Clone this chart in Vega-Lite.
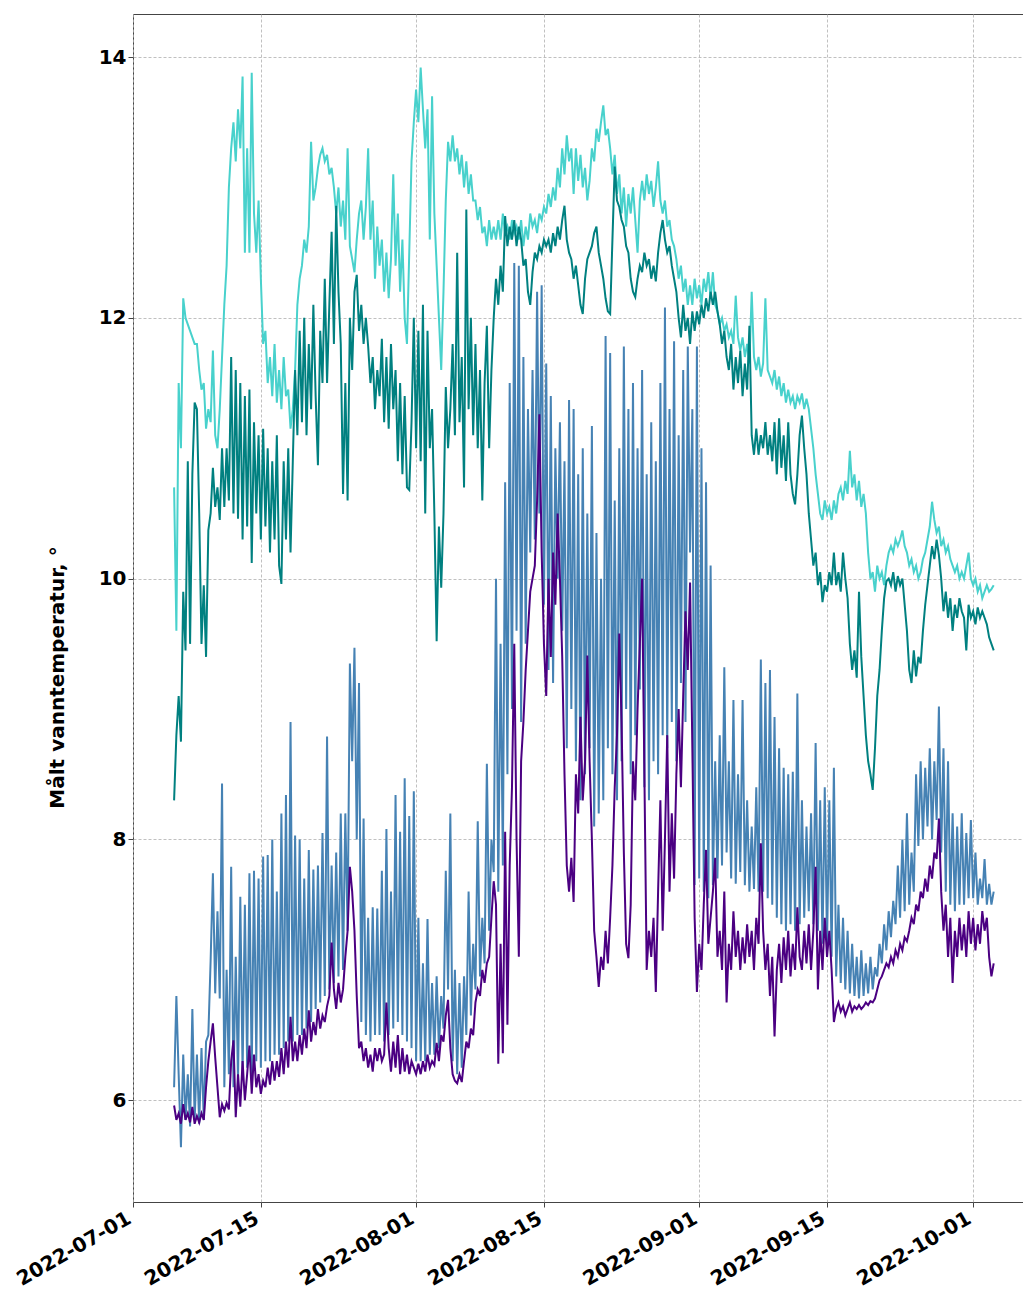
{
  "$schema": "https://vega.github.io/schema/vega-lite/v6.json",
  "width": 890,
  "height": 1188,
  "autosize": {"type": "none"},
  "padding": {"left": 133, "top": 14, "right": 0, "bottom": 87},
  "background": "white",
  "data": {
    "values": [
      {"t":"2022-07-05T12:00","a":10.7,"b":8.3,"c":6.1,"d":5.96},
      {"t":"2022-07-05T18:00","a":9.6,"b":8.8,"c":6.8,"d":5.85},
      {"t":"2022-07-06T00:00","a":11.5,"b":9.1,"c":6.2,"d":5.9},
      {"t":"2022-07-06T06:00","a":11.0,"b":8.75,"c":5.64,"d":5.82},
      {"t":"2022-07-06T12:00","a":12.15,"b":9.9,"c":6.35,"d":5.97},
      {"t":"2022-07-06T18:00","a":12.0,"b":9.45,"c":5.85,"d":5.85},
      {"t":"2022-07-07T00:00","a":11.95,"b":10.9,"c":6.2,"d":5.9},
      {"t":"2022-07-07T06:00","a":11.9,"b":9.5,"c":5.8,"d":5.83},
      {"t":"2022-07-07T12:00","a":11.85,"b":10.8,"c":6.7,"d":5.95},
      {"t":"2022-07-07T18:00","a":11.8,"b":11.35,"c":5.85,"d":5.82},
      {"t":"2022-07-08T00:00","a":11.8,"b":11.3,"c":6.35,"d":5.88},
      {"t":"2022-07-08T06:00","a":11.6,"b":10.5,"c":5.82,"d":5.83},
      {"t":"2022-07-08T12:00","a":11.45,"b":9.5,"c":6.4,"d":5.9},
      {"t":"2022-07-08T18:00","a":11.5,"b":9.95,"c":5.85,"d":5.85},
      {"t":"2022-07-09T00:00","a":11.15,"b":9.4,"c":6.45,"d":6.1},
      {"t":"2022-07-09T06:00","a":11.3,"b":10.37,"c":6.5,"d":6.3},
      {"t":"2022-07-09T12:00","a":11.2,"b":10.5,"c":7.07,"d":6.45},
      {"t":"2022-07-09T18:00","a":11.75,"b":10.85,"c":7.74,"d":6.59},
      {"t":"2022-07-10T00:00","a":11.1,"b":10.55,"c":6.82,"d":6.33},
      {"t":"2022-07-10T06:00","a":11.0,"b":10.7,"c":7.45,"d":6.1},
      {"t":"2022-07-10T12:00","a":11.3,"b":10.45,"c":6.78,"d":5.87},
      {"t":"2022-07-10T18:00","a":11.7,"b":11.0,"c":8.43,"d":5.97},
      {"t":"2022-07-11T00:00","a":12.1,"b":10.55,"c":6.1,"d":5.92},
      {"t":"2022-07-11T06:00","a":12.4,"b":11.0,"c":7.0,"d":5.98},
      {"t":"2022-07-11T12:00","a":13.0,"b":10.6,"c":6.2,"d":5.93},
      {"t":"2022-07-11T18:00","a":13.3,"b":11.7,"c":7.79,"d":6.3},
      {"t":"2022-07-12T00:00","a":13.5,"b":10.5,"c":6.1,"d":6.46},
      {"t":"2022-07-12T06:00","a":13.2,"b":11.6,"c":7.1,"d":5.87},
      {"t":"2022-07-12T12:00","a":13.6,"b":10.46,"c":6.15,"d":6.2},
      {"t":"2022-07-12T18:00","a":13.3,"b":11.5,"c":7.56,"d":5.95},
      {"t":"2022-07-13T00:00","a":13.85,"b":10.3,"c":6.2,"d":6.3},
      {"t":"2022-07-13T06:00","a":12.5,"b":11.4,"c":7.5,"d":6.0},
      {"t":"2022-07-13T12:00","a":13.3,"b":10.4,"c":6.25,"d":6.2},
      {"t":"2022-07-13T18:00","a":12.5,"b":11.45,"c":7.74,"d":6.42},
      {"t":"2022-07-14T00:00","a":13.88,"b":10.12,"c":6.2,"d":6.05},
      {"t":"2022-07-14T06:00","a":12.8,"b":11.2,"c":7.76,"d":6.35},
      {"t":"2022-07-14T12:00","a":12.5,"b":10.5,"c":6.3,"d":6.1},
      {"t":"2022-07-14T18:00","a":12.9,"b":11.1,"c":7.7,"d":6.2},
      {"t":"2022-07-15T00:00","a":12.3,"b":10.3,"c":6.25,"d":6.05},
      {"t":"2022-07-15T06:00","a":11.8,"b":11.15,"c":7.87,"d":6.15},
      {"t":"2022-07-15T12:00","a":11.9,"b":10.4,"c":6.3,"d":6.1},
      {"t":"2022-07-15T18:00","a":11.5,"b":11.0,"c":7.88,"d":6.25},
      {"t":"2022-07-16T00:00","a":11.7,"b":10.2,"c":6.3,"d":6.12},
      {"t":"2022-07-16T06:00","a":11.4,"b":10.9,"c":8.0,"d":6.3},
      {"t":"2022-07-16T12:00","a":11.8,"b":10.3,"c":6.35,"d":6.15},
      {"t":"2022-07-16T18:00","a":11.35,"b":11.1,"c":7.6,"d":6.3},
      {"t":"2022-07-17T00:00","a":11.6,"b":10.1,"c":6.35,"d":6.18},
      {"t":"2022-07-17T06:00","a":11.3,"b":9.96,"c":8.2,"d":6.4},
      {"t":"2022-07-17T12:00","a":11.7,"b":10.9,"c":6.4,"d":6.2},
      {"t":"2022-07-17T18:00","a":11.4,"b":10.3,"c":8.34,"d":6.45},
      {"t":"2022-07-18T00:00","a":11.45,"b":11.0,"c":6.45,"d":6.25},
      {"t":"2022-07-18T06:00","a":11.15,"b":10.2,"c":8.9,"d":6.64},
      {"t":"2022-07-18T12:00","a":11.3,"b":10.9,"c":6.45,"d":6.3},
      {"t":"2022-07-18T18:00","a":11.6,"b":11.6,"c":8.03,"d":6.45},
      {"t":"2022-07-19T00:00","a":12.1,"b":11.1,"c":6.5,"d":6.3},
      {"t":"2022-07-19T06:00","a":12.3,"b":11.9,"c":8.0,"d":6.5},
      {"t":"2022-07-19T12:00","a":12.4,"b":11.2,"c":6.5,"d":6.35},
      {"t":"2022-07-19T18:00","a":12.6,"b":12.0,"c":7.7,"d":6.55},
      {"t":"2022-07-20T00:00","a":12.5,"b":11.1,"c":6.55,"d":6.4},
      {"t":"2022-07-20T06:00","a":12.7,"b":11.8,"c":7.92,"d":6.69},
      {"t":"2022-07-20T12:00","a":13.35,"b":11.3,"c":6.6,"d":6.45},
      {"t":"2022-07-20T18:00","a":12.9,"b":12.1,"c":7.77,"d":6.6},
      {"t":"2022-07-21T00:00","a":13.0,"b":11.4,"c":6.7,"d":6.5},
      {"t":"2022-07-21T06:00","a":13.15,"b":10.87,"c":7.8,"d":6.7},
      {"t":"2022-07-21T12:00","a":13.25,"b":11.9,"c":6.75,"d":6.55},
      {"t":"2022-07-21T18:00","a":13.3,"b":11.5,"c":8.05,"d":6.65},
      {"t":"2022-07-22T00:00","a":13.2,"b":12.3,"c":6.8,"d":6.6},
      {"t":"2022-07-22T06:00","a":13.25,"b":11.5,"c":8.79,"d":6.72},
      {"t":"2022-07-22T12:00","a":13.1,"b":12.1,"c":6.85,"d":6.8},
      {"t":"2022-07-22T18:00","a":13.15,"b":12.66,"c":7.8,"d":7.21},
      {"t":"2022-07-23T00:00","a":13.0,"b":11.8,"c":6.9,"d":6.85},
      {"t":"2022-07-23T06:00","a":12.8,"b":12.86,"c":7.9,"d":6.7},
      {"t":"2022-07-23T12:00","a":13.0,"b":12.2,"c":6.95,"d":6.9},
      {"t":"2022-07-23T18:00","a":12.7,"b":11.8,"c":8.2,"d":6.75},
      {"t":"2022-07-24T00:00","a":12.9,"b":10.65,"c":7.0,"d":6.85},
      {"t":"2022-07-24T06:00","a":12.6,"b":11.5,"c":8.2,"d":7.1},
      {"t":"2022-07-24T12:00","a":13.3,"b":10.6,"c":7.3,"d":7.3},
      {"t":"2022-07-24T18:00","a":12.55,"b":12.0,"c":9.35,"d":7.79},
      {"t":"2022-07-25T00:00","a":12.45,"b":11.6,"c":8.6,"d":7.6},
      {"t":"2022-07-25T06:00","a":12.35,"b":12.2,"c":9.47,"d":7.3},
      {"t":"2022-07-25T12:00","a":12.6,"b":12.33,"c":8.0,"d":6.8},
      {"t":"2022-07-25T18:00","a":12.8,"b":11.9,"c":9.2,"d":6.4},
      {"t":"2022-07-26T00:00","a":12.9,"b":12.1,"c":6.6,"d":6.45},
      {"t":"2022-07-26T06:00","a":12.6,"b":11.8,"c":8.16,"d":6.3},
      {"t":"2022-07-26T12:00","a":12.85,"b":12.0,"c":6.5,"d":6.4},
      {"t":"2022-07-26T18:00","a":13.3,"b":11.78,"c":7.4,"d":6.25},
      {"t":"2022-07-27T00:00","a":12.6,"b":11.5,"c":6.45,"d":6.35},
      {"t":"2022-07-27T06:00","a":12.9,"b":11.7,"c":7.48,"d":6.22},
      {"t":"2022-07-27T12:00","a":12.3,"b":11.3,"c":6.5,"d":6.4},
      {"t":"2022-07-27T18:00","a":12.7,"b":11.6,"c":7.47,"d":6.3},
      {"t":"2022-07-28T00:00","a":12.4,"b":11.4,"c":6.5,"d":6.4},
      {"t":"2022-07-28T06:00","a":12.6,"b":11.84,"c":7.76,"d":6.3},
      {"t":"2022-07-28T12:00","a":12.2,"b":11.2,"c":6.45,"d":6.35},
      {"t":"2022-07-28T18:00","a":12.5,"b":11.7,"c":8.08,"d":6.75},
      {"t":"2022-07-29T00:00","a":12.15,"b":11.15,"c":6.5,"d":6.4},
      {"t":"2022-07-29T06:00","a":12.45,"b":11.8,"c":7.6,"d":6.22},
      {"t":"2022-07-29T12:00","a":13.1,"b":11.3,"c":6.55,"d":6.45},
      {"t":"2022-07-29T18:00","a":12.4,"b":11.6,"c":8.34,"d":6.25},
      {"t":"2022-07-30T00:00","a":12.8,"b":10.9,"c":6.6,"d":6.5},
      {"t":"2022-07-30T06:00","a":12.2,"b":11.5,"c":8.06,"d":6.2},
      {"t":"2022-07-30T12:00","a":12.6,"b":10.8,"c":6.5,"d":6.4},
      {"t":"2022-07-30T18:00","a":12.0,"b":11.4,"c":8.47,"d":6.22},
      {"t":"2022-07-31T00:00","a":11.8,"b":10.7,"c":6.45,"d":6.35},
      {"t":"2022-07-31T06:00","a":12.5,"b":10.68,"c":8.18,"d":6.2},
      {"t":"2022-07-31T12:00","a":13.2,"b":11.2,"c":6.4,"d":6.3},
      {"t":"2022-07-31T18:00","a":13.5,"b":12.0,"c":8.37,"d":6.25},
      {"t":"2022-08-01T00:00","a":13.75,"b":11.0,"c":6.3,"d":6.2},
      {"t":"2022-08-01T06:00","a":13.5,"b":11.9,"c":7.4,"d":6.28},
      {"t":"2022-08-01T12:00","a":13.92,"b":10.9,"c":6.3,"d":6.2},
      {"t":"2022-08-01T18:00","a":13.6,"b":12.1,"c":7.05,"d":6.3},
      {"t":"2022-08-02T00:00","a":13.3,"b":10.5,"c":6.3,"d":6.22},
      {"t":"2022-08-02T06:00","a":13.6,"b":11.9,"c":7.39,"d":6.35},
      {"t":"2022-08-02T12:00","a":12.6,"b":11.0,"c":6.35,"d":6.25},
      {"t":"2022-08-02T18:00","a":13.7,"b":11.3,"c":6.9,"d":6.3},
      {"t":"2022-08-03T00:00","a":12.8,"b":10.5,"c":6.35,"d":6.27},
      {"t":"2022-08-03T06:00","a":12.4,"b":9.52,"c":6.95,"d":6.44},
      {"t":"2022-08-03T12:00","a":12.0,"b":10.4,"c":6.4,"d":6.3},
      {"t":"2022-08-03T18:00","a":11.6,"b":9.93,"c":6.8,"d":6.5},
      {"t":"2022-08-04T00:00","a":12.2,"b":10.5,"c":6.55,"d":6.45},
      {"t":"2022-08-04T06:00","a":12.9,"b":11.47,"c":7.76,"d":6.65},
      {"t":"2022-08-04T12:00","a":13.35,"b":11.0,"c":6.85,"d":6.77},
      {"t":"2022-08-04T18:00","a":13.2,"b":11.3,"c":8.2,"d":6.4},
      {"t":"2022-08-05T00:00","a":13.4,"b":11.8,"c":6.3,"d":6.2},
      {"t":"2022-08-05T06:00","a":13.2,"b":11.1,"c":7.0,"d":6.15},
      {"t":"2022-08-05T12:00","a":13.3,"b":12.5,"c":6.2,"d":6.13},
      {"t":"2022-08-05T18:00","a":13.1,"b":11.2,"c":6.9,"d":6.2},
      {"t":"2022-08-06T00:00","a":13.25,"b":11.7,"c":6.25,"d":6.14},
      {"t":"2022-08-06T06:00","a":13.0,"b":10.7,"c":6.95,"d":6.3},
      {"t":"2022-08-06T12:00","a":13.2,"b":12.83,"c":6.5,"d":6.45},
      {"t":"2022-08-06T18:00","a":12.95,"b":11.3,"c":7.6,"d":6.4},
      {"t":"2022-08-07T00:00","a":13.1,"b":12.0,"c":6.65,"d":6.55},
      {"t":"2022-08-07T06:00","a":12.9,"b":11.1,"c":7.2,"d":6.5},
      {"t":"2022-08-07T12:00","a":12.9,"b":11.8,"c":6.85,"d":6.75},
      {"t":"2022-08-07T18:00","a":12.75,"b":11.0,"c":8.14,"d":6.85},
      {"t":"2022-08-08T00:00","a":12.85,"b":11.6,"c":6.95,"d":6.8},
      {"t":"2022-08-08T06:00","a":12.65,"b":10.6,"c":7.4,"d":7.0},
      {"t":"2022-08-08T12:00","a":12.7,"b":11.5,"c":7.05,"d":6.9},
      {"t":"2022-08-08T18:00","a":12.55,"b":11.94,"c":8.58,"d":7.05},
      {"t":"2022-08-09T00:00","a":12.75,"b":11.0,"c":7.3,"d":7.1},
      {"t":"2022-08-09T06:00","a":12.6,"b":11.6,"c":8.0,"d":7.4},
      {"t":"2022-08-09T12:00","a":12.7,"b":12.0,"c":7.75,"d":7.68},
      {"t":"2022-08-09T18:00","a":12.6,"b":12.3,"c":10.0,"d":7.5},
      {"t":"2022-08-10T00:00","a":12.75,"b":12.1,"c":7.6,"d":6.28},
      {"t":"2022-08-10T06:00","a":12.6,"b":12.4,"c":9.5,"d":7.2},
      {"t":"2022-08-10T12:00","a":12.8,"b":12.2,"c":7.8,"d":6.36},
      {"t":"2022-08-10T18:00","a":12.65,"b":12.78,"c":10.74,"d":8.06},
      {"t":"2022-08-11T00:00","a":12.7,"b":12.55,"c":8.5,"d":6.58},
      {"t":"2022-08-11T06:00","a":12.6,"b":12.7,"c":11.5,"d":7.8},
      {"t":"2022-08-11T12:00","a":12.75,"b":12.6,"c":9.0,"d":8.4},
      {"t":"2022-08-11T18:00","a":12.65,"b":12.75,"c":12.42,"d":9.5},
      {"t":"2022-08-12T00:00","a":12.7,"b":12.55,"c":9.6,"d":8.0},
      {"t":"2022-08-12T06:00","a":12.6,"b":12.7,"c":12.4,"d":7.1},
      {"t":"2022-08-12T12:00","a":12.75,"b":12.6,"c":8.9,"d":8.6},
      {"t":"2022-08-12T18:00","a":12.55,"b":12.4,"c":11.7,"d":8.9},
      {"t":"2022-08-13T00:00","a":12.7,"b":12.45,"c":9.5,"d":9.3},
      {"t":"2022-08-13T06:00","a":12.6,"b":12.2,"c":11.3,"d":9.6},
      {"t":"2022-08-13T12:00","a":12.8,"b":12.1,"c":10.2,"d":9.9},
      {"t":"2022-08-13T18:00","a":12.7,"b":12.35,"c":11.6,"d":10.0},
      {"t":"2022-08-14T00:00","a":12.75,"b":12.5,"c":10.3,"d":10.1},
      {"t":"2022-08-14T06:00","a":12.65,"b":12.45,"c":12.2,"d":10.6},
      {"t":"2022-08-14T12:00","a":12.8,"b":12.55,"c":10.5,"d":11.26},
      {"t":"2022-08-14T18:00","a":12.75,"b":12.5,"c":12.25,"d":10.2},
      {"t":"2022-08-15T00:00","a":12.85,"b":12.6,"c":9.8,"d":9.5},
      {"t":"2022-08-15T06:00","a":12.8,"b":12.55,"c":11.65,"d":9.1},
      {"t":"2022-08-15T12:00","a":12.95,"b":12.6,"c":9.3,"d":10.0},
      {"t":"2022-08-15T18:00","a":12.85,"b":12.5,"c":11.4,"d":9.4},
      {"t":"2022-08-16T00:00","a":13.0,"b":12.65,"c":9.2,"d":10.2},
      {"t":"2022-08-16T06:00","a":12.9,"b":12.55,"c":11.0,"d":9.8},
      {"t":"2022-08-16T12:00","a":13.15,"b":12.7,"c":10.0,"d":10.5},
      {"t":"2022-08-16T18:00","a":13.0,"b":12.6,"c":11.2,"d":10.0},
      {"t":"2022-08-17T00:00","a":13.3,"b":12.75,"c":9.6,"d":9.4},
      {"t":"2022-08-17T06:00","a":13.1,"b":12.86,"c":10.9,"d":8.5},
      {"t":"2022-08-17T12:00","a":13.4,"b":12.6,"c":8.7,"d":7.8},
      {"t":"2022-08-17T18:00","a":13.2,"b":12.5,"c":11.37,"d":7.6},
      {"t":"2022-08-18T00:00","a":13.3,"b":12.45,"c":9.0,"d":7.86},
      {"t":"2022-08-18T06:00","a":12.95,"b":12.3,"c":11.3,"d":7.52},
      {"t":"2022-08-18T12:00","a":13.3,"b":12.4,"c":8.6,"d":8.5},
      {"t":"2022-08-18T18:00","a":13.05,"b":12.25,"c":10.8,"d":8.2},
      {"t":"2022-08-19T00:00","a":13.25,"b":12.1,"c":8.3,"d":8.94},
      {"t":"2022-08-19T06:00","a":13.0,"b":12.03,"c":11.0,"d":8.3},
      {"t":"2022-08-19T12:00","a":13.15,"b":12.3,"c":8.5,"d":8.6},
      {"t":"2022-08-19T18:00","a":12.9,"b":12.45,"c":10.5,"d":9.41},
      {"t":"2022-08-20T00:00","a":13.05,"b":12.5,"c":8.7,"d":8.6},
      {"t":"2022-08-20T06:00","a":13.3,"b":12.55,"c":11.17,"d":8.0},
      {"t":"2022-08-20T12:00","a":13.2,"b":12.65,"c":8.1,"d":7.3},
      {"t":"2022-08-20T18:00","a":13.45,"b":12.7,"c":10.35,"d":7.1},
      {"t":"2022-08-21T00:00","a":13.35,"b":12.5,"c":8.2,"d":6.87},
      {"t":"2022-08-21T06:00","a":13.5,"b":12.4,"c":10.0,"d":7.1},
      {"t":"2022-08-21T12:00","a":13.63,"b":12.3,"c":8.3,"d":7.0},
      {"t":"2022-08-21T18:00","a":13.4,"b":12.15,"c":11.86,"d":7.3},
      {"t":"2022-08-22T00:00","a":13.45,"b":12.05,"c":8.7,"d":7.05},
      {"t":"2022-08-22T06:00","a":13.3,"b":12.03,"c":11.73,"d":7.4},
      {"t":"2022-08-22T12:00","a":13.1,"b":12.6,"c":8.5,"d":7.8},
      {"t":"2022-08-22T18:00","a":13.25,"b":13.16,"c":10.6,"d":8.4},
      {"t":"2022-08-23T00:00","a":12.95,"b":12.9,"c":8.3,"d":8.8},
      {"t":"2022-08-23T06:00","a":13.1,"b":12.85,"c":11.0,"d":9.58},
      {"t":"2022-08-23T12:00","a":12.8,"b":12.75,"c":8.6,"d":8.9},
      {"t":"2022-08-23T18:00","a":13.0,"b":12.7,"c":11.78,"d":7.9},
      {"t":"2022-08-24T00:00","a":12.7,"b":12.55,"c":9.0,"d":7.2},
      {"t":"2022-08-24T06:00","a":12.95,"b":12.5,"c":11.3,"d":7.09},
      {"t":"2022-08-24T12:00","a":12.8,"b":12.3,"c":8.5,"d":7.5},
      {"t":"2022-08-24T18:00","a":13.0,"b":12.2,"c":11.5,"d":8.6},
      {"t":"2022-08-25T00:00","a":12.75,"b":12.16,"c":8.8,"d":8.3},
      {"t":"2022-08-25T06:00","a":12.5,"b":12.3,"c":11.0,"d":9.0},
      {"t":"2022-08-25T12:00","a":12.9,"b":12.4,"c":9.15,"d":9.5},
      {"t":"2022-08-25T18:00","a":13.05,"b":12.35,"c":11.6,"d":10.0},
      {"t":"2022-08-26T00:00","a":12.9,"b":12.5,"c":8.4,"d":8.5},
      {"t":"2022-08-26T06:00","a":13.1,"b":12.4,"c":10.8,"d":7.0},
      {"t":"2022-08-26T12:00","a":12.95,"b":12.45,"c":8.3,"d":7.3},
      {"t":"2022-08-26T18:00","a":13.05,"b":12.3,"c":11.2,"d":7.1},
      {"t":"2022-08-27T00:00","a":12.85,"b":12.4,"c":8.6,"d":7.4},
      {"t":"2022-08-27T06:00","a":13.0,"b":12.28,"c":10.9,"d":6.83},
      {"t":"2022-08-27T12:00","a":13.2,"b":12.5,"c":8.5,"d":7.6},
      {"t":"2022-08-27T18:00","a":12.9,"b":12.65,"c":11.5,"d":8.3},
      {"t":"2022-08-28T00:00","a":12.8,"b":12.75,"c":8.8,"d":7.3},
      {"t":"2022-08-28T06:00","a":12.9,"b":12.6,"c":12.08,"d":8.0},
      {"t":"2022-08-28T12:00","a":12.7,"b":12.5,"c":8.7,"d":8.8},
      {"t":"2022-08-28T18:00","a":12.75,"b":12.55,"c":11.3,"d":7.6},
      {"t":"2022-08-29T00:00","a":12.6,"b":12.4,"c":8.9,"d":8.2},
      {"t":"2022-08-29T06:00","a":12.55,"b":12.3,"c":11.82,"d":7.7},
      {"t":"2022-08-29T12:00","a":12.45,"b":12.2,"c":8.6,"d":8.5},
      {"t":"2022-08-29T18:00","a":12.3,"b":12.0,"c":11.1,"d":9.0},
      {"t":"2022-08-30T00:00","a":12.4,"b":11.85,"c":9.2,"d":8.4},
      {"t":"2022-08-30T06:00","a":12.2,"b":12.1,"c":11.6,"d":9.1},
      {"t":"2022-08-30T12:00","a":12.3,"b":11.9,"c":8.9,"d":9.75},
      {"t":"2022-08-30T18:00","a":12.1,"b":12.0,"c":11.78,"d":9.3},
      {"t":"2022-08-31T00:00","a":12.25,"b":11.8,"c":10.2,"d":9.97},
      {"t":"2022-08-31T06:00","a":12.1,"b":12.05,"c":11.3,"d":8.7},
      {"t":"2022-08-31T12:00","a":12.3,"b":11.9,"c":7.65,"d":7.4},
      {"t":"2022-08-31T18:00","a":12.15,"b":12.05,"c":11.78,"d":6.83},
      {"t":"2022-09-01T00:00","a":12.25,"b":11.95,"c":7.7,"d":7.2},
      {"t":"2022-09-01T06:00","a":12.1,"b":12.1,"c":11.0,"d":7.0},
      {"t":"2022-09-01T12:00","a":12.3,"b":12.0,"c":7.6,"d":7.5},
      {"t":"2022-09-01T18:00","a":12.2,"b":12.15,"c":10.74,"d":7.92},
      {"t":"2022-09-02T00:00","a":12.35,"b":12.05,"c":7.55,"d":7.2},
      {"t":"2022-09-02T06:00","a":12.15,"b":12.2,"c":10.1,"d":7.4},
      {"t":"2022-09-02T12:00","a":12.35,"b":12.1,"c":7.65,"d":7.6},
      {"t":"2022-09-02T18:00","a":12.1,"b":12.2,"c":8.6,"d":7.86},
      {"t":"2022-09-03T00:00","a":12.05,"b":12.05,"c":7.7,"d":7.1},
      {"t":"2022-09-03T06:00","a":11.95,"b":11.95,"c":8.8,"d":7.3},
      {"t":"2022-09-03T12:00","a":12.0,"b":11.8,"c":7.8,"d":7.0},
      {"t":"2022-09-03T18:00","a":11.9,"b":11.9,"c":9.32,"d":7.6},
      {"t":"2022-09-04T00:00","a":11.95,"b":11.7,"c":7.9,"d":6.75},
      {"t":"2022-09-04T06:00","a":11.85,"b":11.6,"c":8.6,"d":7.2},
      {"t":"2022-09-04T12:00","a":11.9,"b":11.8,"c":7.7,"d":7.0},
      {"t":"2022-09-04T18:00","a":11.8,"b":11.45,"c":9.07,"d":7.45},
      {"t":"2022-09-05T00:00","a":12.17,"b":11.7,"c":7.66,"d":7.1},
      {"t":"2022-09-05T06:00","a":11.85,"b":11.5,"c":8.5,"d":7.3},
      {"t":"2022-09-05T12:00","a":11.75,"b":11.75,"c":7.75,"d":7.0},
      {"t":"2022-09-05T18:00","a":11.85,"b":11.4,"c":9.07,"d":7.25},
      {"t":"2022-09-06T00:00","a":11.7,"b":11.65,"c":7.65,"d":7.05},
      {"t":"2022-09-06T06:00","a":11.8,"b":11.45,"c":8.3,"d":7.35},
      {"t":"2022-09-06T12:00","a":11.65,"b":11.94,"c":7.6,"d":7.1},
      {"t":"2022-09-06T18:00","a":12.2,"b":11.1,"c":8.1,"d":7.3},
      {"t":"2022-09-07T00:00","a":11.7,"b":10.95,"c":7.62,"d":7.0},
      {"t":"2022-09-07T06:00","a":11.6,"b":11.15,"c":8.4,"d":7.4},
      {"t":"2022-09-07T12:00","a":11.7,"b":10.95,"c":7.6,"d":7.2},
      {"t":"2022-09-07T18:00","a":11.55,"b":11.1,"c":9.38,"d":7.97},
      {"t":"2022-09-08T00:00","a":11.65,"b":11.0,"c":7.6,"d":7.3},
      {"t":"2022-09-08T06:00","a":12.15,"b":11.2,"c":9.2,"d":7.0},
      {"t":"2022-09-08T12:00","a":11.6,"b":10.95,"c":7.55,"d":7.2},
      {"t":"2022-09-08T18:00","a":11.55,"b":11.1,"c":9.3,"d":6.8},
      {"t":"2022-09-09T00:00","a":11.5,"b":10.9,"c":7.5,"d":7.1},
      {"t":"2022-09-09T06:00","a":11.6,"b":11.2,"c":8.94,"d":6.49},
      {"t":"2022-09-09T12:00","a":11.45,"b":10.8,"c":7.4,"d":7.0},
      {"t":"2022-09-09T18:00","a":11.55,"b":11.23,"c":8.7,"d":7.2},
      {"t":"2022-09-10T00:00","a":11.4,"b":10.85,"c":7.35,"d":6.9},
      {"t":"2022-09-10T06:00","a":11.5,"b":11.1,"c":8.55,"d":7.25},
      {"t":"2022-09-10T12:00","a":11.35,"b":10.75,"c":7.3,"d":7.0},
      {"t":"2022-09-10T18:00","a":11.45,"b":11.2,"c":8.5,"d":7.3},
      {"t":"2022-09-11T00:00","a":11.35,"b":10.8,"c":7.35,"d":6.95},
      {"t":"2022-09-11T06:00","a":11.4,"b":10.65,"c":8.52,"d":7.2},
      {"t":"2022-09-11T12:00","a":11.3,"b":10.57,"c":7.3,"d":7.0},
      {"t":"2022-09-11T18:00","a":11.4,"b":10.8,"c":9.12,"d":7.48},
      {"t":"2022-09-12T00:00","a":11.35,"b":11.1,"c":7.35,"d":7.1},
      {"t":"2022-09-12T06:00","a":11.42,"b":11.25,"c":8.3,"d":7.0},
      {"t":"2022-09-12T12:00","a":11.3,"b":11.0,"c":7.4,"d":7.3},
      {"t":"2022-09-12T18:00","a":11.38,"b":10.8,"c":8.1,"d":7.05},
      {"t":"2022-09-13T00:00","a":11.3,"b":10.5,"c":7.45,"d":7.35},
      {"t":"2022-09-13T06:00","a":11.15,"b":10.3,"c":8.2,"d":7.0},
      {"t":"2022-09-13T12:00","a":11.0,"b":10.1,"c":7.35,"d":7.3},
      {"t":"2022-09-13T18:00","a":10.8,"b":10.2,"c":8.74,"d":7.79},
      {"t":"2022-09-14T00:00","a":10.65,"b":9.95,"c":7.3,"d":6.85},
      {"t":"2022-09-14T06:00","a":10.5,"b":10.05,"c":8.3,"d":7.3},
      {"t":"2022-09-14T12:00","a":10.45,"b":9.82,"c":7.2,"d":7.0},
      {"t":"2022-09-14T18:00","a":10.6,"b":9.95,"c":8.4,"d":7.4},
      {"t":"2022-09-15T00:00","a":10.5,"b":9.9,"c":7.2,"d":7.1},
      {"t":"2022-09-15T06:00","a":10.55,"b":10.05,"c":8.3,"d":7.3},
      {"t":"2022-09-15T12:00","a":10.45,"b":9.95,"c":7.1,"d":7.0},
      {"t":"2022-09-15T18:00","a":10.6,"b":10.2,"c":8.55,"d":6.6},
      {"t":"2022-09-16T00:00","a":10.5,"b":9.95,"c":6.95,"d":6.7},
      {"t":"2022-09-16T06:00","a":10.65,"b":10.05,"c":7.5,"d":6.75},
      {"t":"2022-09-16T12:00","a":10.7,"b":9.9,"c":6.9,"d":6.68},
      {"t":"2022-09-16T18:00","a":10.6,"b":10.2,"c":7.4,"d":6.72},
      {"t":"2022-09-17T00:00","a":10.75,"b":10.0,"c":6.85,"d":6.65},
      {"t":"2022-09-17T06:00","a":10.65,"b":9.85,"c":7.3,"d":6.7},
      {"t":"2022-09-17T12:00","a":10.98,"b":9.5,"c":6.82,"d":6.75},
      {"t":"2022-09-17T18:00","a":10.7,"b":9.3,"c":7.2,"d":6.68},
      {"t":"2022-09-18T00:00","a":10.8,"b":9.45,"c":6.8,"d":6.72},
      {"t":"2022-09-18T06:00","a":10.6,"b":9.24,"c":7.1,"d":6.7},
      {"t":"2022-09-18T12:00","a":10.75,"b":9.9,"c":6.78,"d":6.73},
      {"t":"2022-09-18T18:00","a":10.55,"b":9.4,"c":7.15,"d":6.7},
      {"t":"2022-09-19T00:00","a":10.65,"b":9.1,"c":6.8,"d":6.72},
      {"t":"2022-09-19T06:00","a":10.5,"b":8.8,"c":7.05,"d":6.75},
      {"t":"2022-09-19T12:00","a":10.2,"b":8.6,"c":6.82,"d":6.73},
      {"t":"2022-09-19T18:00","a":10.0,"b":8.5,"c":7.1,"d":6.76},
      {"t":"2022-09-20T00:00","a":10.05,"b":8.38,"c":6.85,"d":6.75},
      {"t":"2022-09-20T06:00","a":9.9,"b":8.7,"c":7.02,"d":6.78},
      {"t":"2022-09-20T12:00","a":10.1,"b":9.1,"c":6.95,"d":6.85},
      {"t":"2022-09-20T18:00","a":10.0,"b":9.3,"c":7.2,"d":6.92},
      {"t":"2022-09-21T00:00","a":10.05,"b":9.6,"c":7.05,"d":6.95},
      {"t":"2022-09-21T06:00","a":9.95,"b":9.85,"c":7.35,"d":7.0},
      {"t":"2022-09-21T12:00","a":10.1,"b":9.98,"c":7.15,"d":7.05},
      {"t":"2022-09-21T18:00","a":10.2,"b":10.0,"c":7.45,"d":7.02},
      {"t":"2022-09-22T00:00","a":10.25,"b":9.95,"c":7.25,"d":7.1},
      {"t":"2022-09-22T06:00","a":10.2,"b":10.05,"c":7.53,"d":7.05},
      {"t":"2022-09-22T12:00","a":10.3,"b":9.9,"c":7.35,"d":7.15},
      {"t":"2022-09-22T18:00","a":10.25,"b":10.02,"c":7.8,"d":7.1},
      {"t":"2022-09-23T00:00","a":10.3,"b":9.95,"c":7.4,"d":7.2},
      {"t":"2022-09-23T06:00","a":10.37,"b":10.0,"c":8.0,"d":7.15},
      {"t":"2022-09-23T12:00","a":10.25,"b":9.8,"c":7.45,"d":7.25},
      {"t":"2022-09-23T18:00","a":10.2,"b":9.6,"c":8.2,"d":7.22},
      {"t":"2022-09-24T00:00","a":10.1,"b":9.3,"c":7.5,"d":7.3},
      {"t":"2022-09-24T06:00","a":10.15,"b":9.2,"c":7.9,"d":7.4},
      {"t":"2022-09-24T12:00","a":10.05,"b":9.45,"c":7.6,"d":7.35},
      {"t":"2022-09-24T18:00","a":10.1,"b":9.25,"c":8.5,"d":7.5},
      {"t":"2022-09-25T00:00","a":10.0,"b":9.4,"c":7.95,"d":7.45},
      {"t":"2022-09-25T06:00","a":10.05,"b":9.35,"c":8.6,"d":7.6},
      {"t":"2022-09-25T12:00","a":10.15,"b":9.6,"c":8.0,"d":7.55},
      {"t":"2022-09-25T18:00","a":10.2,"b":9.8,"c":8.55,"d":7.7},
      {"t":"2022-09-26T00:00","a":10.3,"b":9.95,"c":8.1,"d":7.6},
      {"t":"2022-09-26T06:00","a":10.4,"b":10.1,"c":8.7,"d":7.8},
      {"t":"2022-09-26T12:00","a":10.59,"b":10.25,"c":8.0,"d":7.7},
      {"t":"2022-09-26T18:00","a":10.45,"b":10.15,"c":8.6,"d":7.9},
      {"t":"2022-09-27T00:00","a":10.35,"b":10.3,"c":8.15,"d":7.85},
      {"t":"2022-09-27T06:00","a":10.4,"b":10.18,"c":9.02,"d":8.16},
      {"t":"2022-09-27T12:00","a":10.25,"b":10.0,"c":7.9,"d":7.6},
      {"t":"2022-09-27T18:00","a":10.3,"b":9.75,"c":8.7,"d":7.3},
      {"t":"2022-09-28T00:00","a":10.2,"b":9.9,"c":7.6,"d":7.5},
      {"t":"2022-09-28T06:00","a":10.25,"b":9.7,"c":8.6,"d":7.1},
      {"t":"2022-09-28T12:00","a":10.15,"b":9.85,"c":7.5,"d":7.4},
      {"t":"2022-09-28T18:00","a":10.1,"b":9.6,"c":8.2,"d":6.9},
      {"t":"2022-09-29T00:00","a":10.05,"b":9.8,"c":7.45,"d":7.3},
      {"t":"2022-09-29T06:00","a":10.1,"b":9.7,"c":8.1,"d":7.1},
      {"t":"2022-09-29T12:00","a":10.0,"b":9.85,"c":7.5,"d":7.4},
      {"t":"2022-09-29T18:00","a":10.05,"b":9.75,"c":8.2,"d":7.15},
      {"t":"2022-09-30T00:00","a":10.0,"b":9.7,"c":7.5,"d":7.35},
      {"t":"2022-09-30T06:00","a":10.1,"b":9.45,"c":8.05,"d":7.1},
      {"t":"2022-09-30T12:00","a":10.2,"b":9.8,"c":7.55,"d":7.45},
      {"t":"2022-09-30T18:00","a":10.0,"b":9.7,"c":8.15,"d":7.2},
      {"t":"2022-10-01T00:00","a":9.95,"b":9.75,"c":7.55,"d":7.4},
      {"t":"2022-10-01T06:00","a":10.0,"b":9.65,"c":7.9,"d":7.15},
      {"t":"2022-10-01T12:00","a":9.9,"b":9.78,"c":7.5,"d":7.35},
      {"t":"2022-10-01T18:00","a":9.95,"b":9.7,"c":7.7,"d":7.2},
      {"t":"2022-10-02T00:00","a":9.85,"b":9.75,"c":7.55,"d":7.45},
      {"t":"2022-10-02T06:00","a":9.9,"b":9.7,"c":7.85,"d":7.3},
      {"t":"2022-10-02T12:00","a":9.95,"b":9.65,"c":7.5,"d":7.4},
      {"t":"2022-10-02T18:00","a":9.9,"b":9.55,"c":7.66,"d":7.1},
      {"t":"2022-10-03T00:00","a":9.92,"b":9.5,"c":7.5,"d":6.95},
      {"t":"2022-10-03T06:00","a":9.95,"b":9.45,"c":7.6,"d":7.05}
    ]
  },
  "transform": [
    {"fold": ["a", "b", "c", "d"], "as": ["s", "v"]}
  ],
  "mark": {"type": "line", "strokeWidth": 2, "clip": true},
  "encoding": {
    "x": {
      "field": "t",
      "type": "temporal",
      "scale": {"domain": [{"year": 2022, "month": 7, "date": 1}, {"year": 2022, "month": 10, "date": 6, "hours": 11}]},
      "axis": {
        "title": null,
        "values": [
          {"year": 2022, "month": 7, "date": 1},
          {"year": 2022, "month": 7, "date": 15},
          {"year": 2022, "month": 8, "date": 1},
          {"year": 2022, "month": 8, "date": 15},
          {"year": 2022, "month": 9, "date": 1},
          {"year": 2022, "month": 9, "date": 15},
          {"year": 2022, "month": 10, "date": 1}
        ],
        "format": "%Y-%m-%d",
        "labelAngle": -30,
        "labelAlign": "right",
        "labelBaseline": "top",
        "labelOffset": -9,
        "labelPadding": 1
      }
    },
    "y": {
      "field": "v",
      "type": "quantitative",
      "scale": {"domain": [5.22, 14.33], "nice": false, "zero": false},
      "axis": {
        "values": [6, 8, 10, 12, 14],
        "title": "Målt vanntemperatur, °",
        "titleX": -76,
        "titleY": 663,
        "titleAngle": 270,
        "titleAlign": "center",
        "titleBaseline": "middle",
        "titleFontSize": 20,
        "titleFont": "DejaVu Sans",
        "titleFontWeight": "bold",
        "titleColor": "black",
        "labelPadding": 2
      }
    },
    "color": {
      "field": "s",
      "type": "nominal",
      "scale": {"domain": ["a", "b", "c", "d"], "range": ["#48d1cc", "#008080", "#4682b4", "#4b0082"]},
      "legend": null
    }
  },
  "config": {
    "view": {"stroke": "#444", "strokeWidth": 1},
    "axis": {
      "domain": false,
      "grid": true,
      "gridColor": "#b0b0b0",
      "gridDash": [3, 2],
      "gridWidth": 0.8,
      "tickColor": "#444",
      "tickSize": 5,
      "labelFont": "DejaVu Sans",
      "labelFontSize": 20,
      "labelFontWeight": "bold",
      "labelColor": "black",
      "labelFlush": false,
      "labelOverlap": false
    }
  }
}
